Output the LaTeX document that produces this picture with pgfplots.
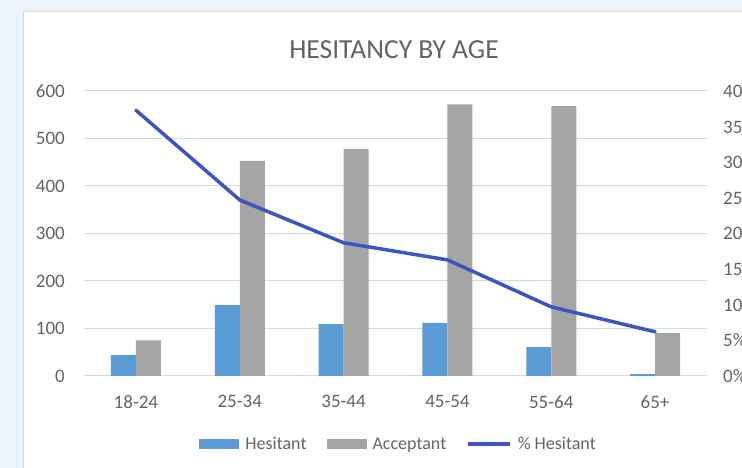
\documentclass[border=0pt]{standalone}
\usepackage{pgfplots}
\usepackage{pgfplotstable}
\pgfplotsset{compat=1.18}
\usepackage{fontspec}
\setmainfont{Carlito}

\definecolor{bgblue}{RGB}{236,243,250}
\definecolor{hesblue}{RGB}{91,155,213}
\definecolor{accgray}{RGB}{165,165,165}
\definecolor{lineblue}{RGB}{62,84,190}
\definecolor{txtgray}{RGB}{100,100,100}
\definecolor{gridgray}{RGB}{217,217,217}

% Respondents per age band: hesitant and acceptant counts
\pgfplotstableread{
idx H A
0 44 75
1 149 453
2 109 478
3 112 572
4 61 568
5 4 90
}\counts

% Share of each band that is hesitant (percent)
\pgfplotstableread{
idx P
0 37.3
1 24.7
2 18.7
3 16.3
4 9.7
5 6.2
}\share

\begin{document}
\begin{tikzpicture}
% page and chart-area background
\fill[bgblue] (0pt,0pt) rectangle (742pt,468pt);
\fill[white] (23pt,0pt) rectangle (742pt,456pt);
\draw[gridgray, line width=1pt] (23.5pt,-2pt) -- (23.5pt,456.5pt) -- (745pt,456.5pt);

\begin{scope}
\clip (0pt,0pt) rectangle (742pt,468pt);

\begin{axis}[
  at={(84pt,92pt)}, anchor=south west,
  scale only axis, width=623pt, height=285pt,
  xmin=-0.5, xmax=5.5, ymin=0, ymax=600,
  axis line style={draw=none},
  major tick length=0pt,
  xtick={0,...,5},
  xticklabels={18-24,25-34,35-44,45-54,55-64,65+},
  ytick={0,100,...,600},
  ymajorgrids, grid style={gridgray, line width=1pt},
  /pgf/number format/assume math mode=true,
  tick label style={font=\fontsize{19}{22}\selectfont, text=txtgray},
  xticklabel style={inner sep=0pt, yshift=-19pt},
  yticklabel style={inner sep=0pt, xshift=-19pt},
  ybar, bar width=25pt,
  legend style={at={(0.505,-0.239)}, anchor=center, draw=none, fill=none,
    legend columns=-1, font=\fontsize{18}{21}\selectfont, text=txtgray,
    /tikz/every odd column/.append style={column sep=4pt},
    /tikz/every even column/.append style={column sep=18pt},
    nodes={inner sep=2pt}},
]
\addplot[fill=hesblue, draw=none, bar shift=-12.5pt,
  legend image code/.code={\fill[hesblue] (0pt,-5pt) rectangle (40pt,5pt);}]
  table[x=idx, y=H] {\counts};
\addlegendentry{Hesitant}
\addplot[fill=accgray, draw=none, bar shift=12.5pt,
  legend image code/.code={\fill[accgray] (0pt,-5pt) rectangle (40pt,5pt);}]
  table[x=idx, y=A] {\counts};
\addlegendentry{Acceptant}
\addlegendimage{lineblue, line width=3.5pt,
  legend image code/.code={\draw[lineblue, line width=3.5pt] (0pt,0pt) -- (42pt,0pt);}}
\addlegendentry{\% Hesitant}
\end{axis}

\begin{axis}[
  at={(84pt,92pt)}, anchor=south west,
  scale only axis, width=623pt, height=285pt,
  xmin=-0.5, xmax=5.5, ymin=0, ymax=40,
  axis y line*=right, axis x line=none,
  axis line style={draw=none},
  major tick length=0pt,
  ytick={0,5,...,40},
  yticklabels={0\%,5\%,10\%,15\%,20\%,25\%,30\%,35\%,40\%},
  tick label style={font=\fontsize{19}{22}\selectfont, text=txtgray},
  yticklabel style={anchor=west, inner sep=0pt, xshift=16pt},
]
\addplot[lineblue, line width=3.5pt, line join=round, line cap=round, mark=none]
  table[x=idx, y=P] {\share};
\end{axis}
\end{scope}

\node[anchor=base, text=txtgray, font=\fontsize{27.5}{32}\selectfont]
  at (394pt,409pt) {HESITANCY BY AGE};

\pgfresetboundingbox
\path[use as bounding box] (0pt,0pt) rectangle (742pt,468pt);
\end{tikzpicture}
\end{document}
